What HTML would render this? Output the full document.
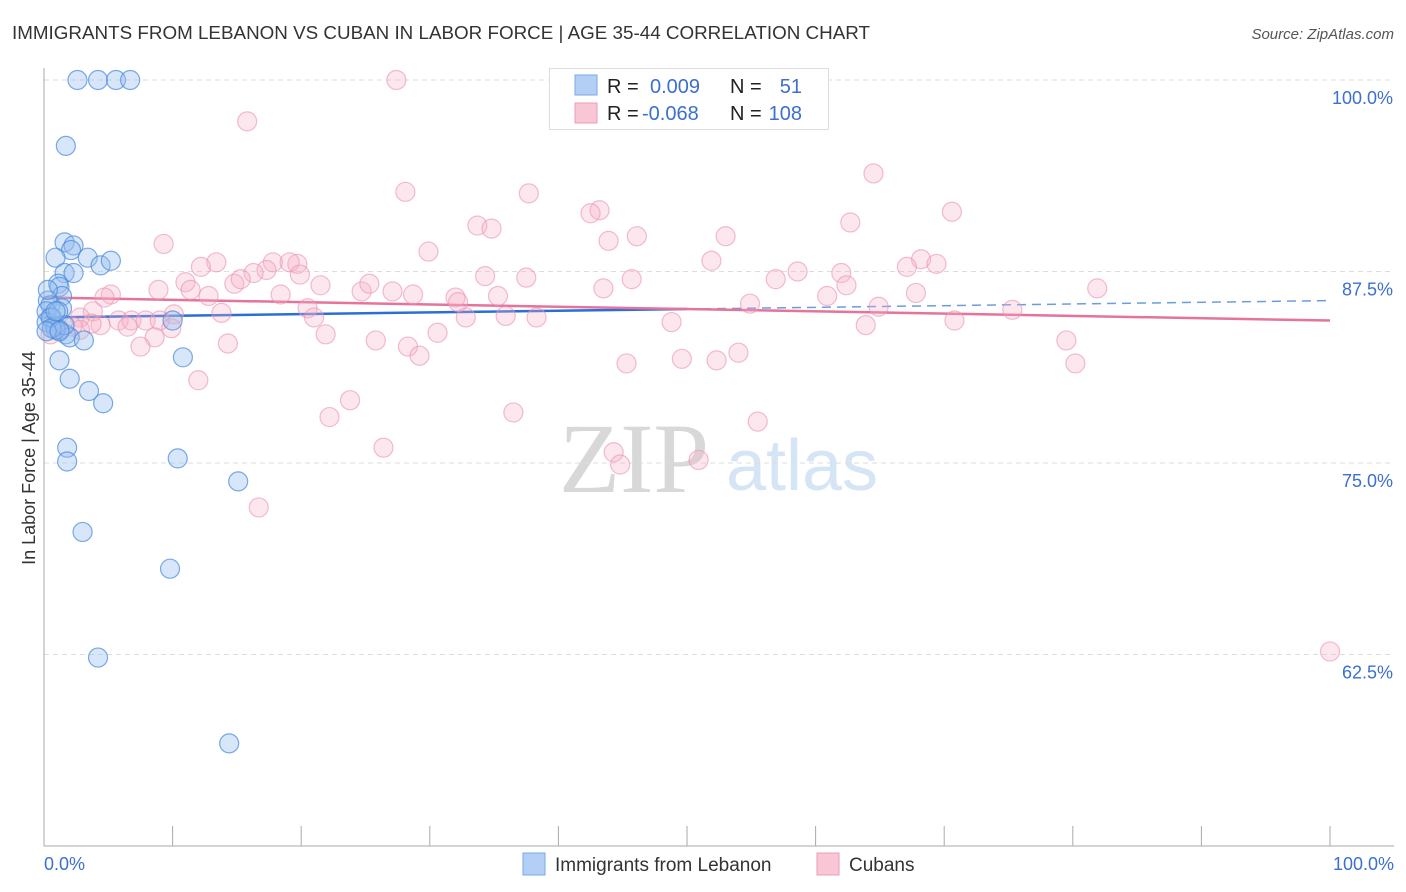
<!DOCTYPE html>
<html><head><meta charset="utf-8"><style>
body{margin:0;background:#fff;font-family:"Liberation Sans",sans-serif}
svg{display:block}
</style></head><body>
<svg id="chart" width="1406" height="892">
<text x="12" y="39" font-size="18" fill="#333" textLength="858" lengthAdjust="spacingAndGlyphs">IMMIGRANTS FROM LEBANON VS CUBAN IN LABOR FORCE | AGE 35-44 CORRELATION CHART</text>
<text x="1394" y="39" font-size="15" fill="#555" font-style="italic" text-anchor="end">Source: ZipAtlas.com</text>
<text x="35" y="458" font-size="18" fill="#333" transform="rotate(-90 35 458)" text-anchor="middle">In Labor Force | Age 35-44</text>
<g><text x="634" y="492" font-size="100" fill="#d8d8d8" font-family="Liberation Serif" text-anchor="middle">ZIP</text><text x="802" y="490" font-size="72" fill="#d6e5f5" text-anchor="middle">atlas</text></g>
<g id="grid"></g><g id="axes"></g><g id="trend"></g><g id="pts"></g>
<g>
<rect x="549.5" y="68.5" width="279" height="61" fill="#fff" stroke="#ddd"/>
<rect x="575" y="75" width="22" height="20" fill="#b3cff5" stroke="#7aa8e8"/>
<rect x="575" y="103" width="22" height="20" fill="#f9c6d6" stroke="#f09ab5"/>
<text x="607" y="93" font-size="20" fill="#222">R =</text><text x="650" y="93" font-size="20" fill="#3b6fd0">0.009</text>
<text x="730" y="93" font-size="20" fill="#222">N =</text><text x="802" y="93" font-size="20" fill="#3b6fd0" text-anchor="end">51</text>
<text x="607" y="120" font-size="20" fill="#222">R =</text><text x="642" y="120" font-size="20" fill="#3b6fd0">-0.068</text>
<text x="730" y="120" font-size="20" fill="#222">N =</text><text x="802" y="120" font-size="20" fill="#3b6fd0" text-anchor="end">108</text>
</g>
<g>
<rect x="523" y="853" width="22" height="22" fill="#b3cff5" stroke="#7aa8e8"/>
<text x="555" y="871" font-size="19" fill="#333">Immigrants from Lebanon</text>
<rect x="817" y="853" width="22" height="22" fill="#f9c6d6" stroke="#f09ab5"/>
<text x="849" y="871" font-size="19" fill="#333">Cubans</text>
</g>
<text x="44" y="870" font-size="18" fill="#3b6fd0">0.0%</text>
<text x="1394" y="870" font-size="18" fill="#3b6fd0" text-anchor="end">100.0%</text>
</svg>
<script>
const yTicks=[100,87.5,75,62.5];
const yTickLabels=["100.0%","87.5%","75.0%","62.5%"];
const xTicks=[0,10,20,30,40,50,60,70,80,90,100];
const blueX=[2.6,4.2,5.6,6.7,1.7,1.6,2.3,2.1,0.9,3.4,4.4,5.2,1.6,2.3,1.1,1.2,1.4,0.3,0.5,1.4,0.2,0.6,0.2,0.9,1.2,1.7,2.0,3.1,1.2,2.0,3.5,4.6,10.8,10.0,1.8,1.8,10.4,15.1,3.0,9.8,4.2,14.4,0.3,0.9,1.6,0.5,0.6,1.1,0.2,0.9,1.2];
const blueY=[100,100,100,100,95.7,89.4,89.2,88.9,88.4,88.4,87.9,88.2,87.4,87.4,86.7,86.5,85.9,85.6,85.3,85.1,84.9,84.5,84.2,83.9,83.7,83.4,83.2,83.0,81.7,80.5,79.7,78.9,81.9,84.3,76.0,75.1,75.3,73.8,70.5,68.1,62.3,56.7,86.3,83.7,84.0,84.5,83.8,84.9,83.6,84.9,83.6];
const pinkX=[27.4,15.8,64.5,28.1,37.7,43.2,42.5,70.6,33.7,34.8,62.7,43.9,46.1,53.0,9.3,29.9,13.4,12.2,51.9,68.2,69.4,67.1,17.8,19.7,19.1,17.3,16.3,19.9,34.3,37.5,45.7,56.9,58.6,62.0,62.4,11.0,14.8,15.3,8.9,11.4,12.8,18.4,21.5,24.7,25.3,27.1,28.7,32.0,32.2,35.3,43.5,60.9,67.8,81.9,5.2,4.7,3.8,2.8,10.1,13.8,20.5,21.0,32.8,35.9,38.3,54.9,64.9,75.3,70.8,48.8,63.9,5.8,6.8,7.9,9.0,4.4,2.2,1.2,3.7,6.5,8.6,7.5,9.9,14.3,21.9,25.8,28.3,29.2,30.6,45.3,49.6,52.3,54.0,79.5,80.2,12.0,23.8,22.2,36.5,55.5,26.4,44.3,44.8,50.9,16.7,100,0.5,2.8];
const pinkY=[100,97.3,93.9,92.7,92.6,91.5,91.3,91.4,90.5,90.3,90.7,89.5,89.8,89.8,89.3,88.8,88.1,87.8,88.2,88.3,88.0,87.8,88.1,88.0,88.1,87.6,87.4,87.3,87.2,87.1,87.0,87.0,87.5,87.4,86.6,86.8,86.7,87.0,86.3,86.3,85.9,86.0,86.6,86.2,86.7,86.2,86.0,85.8,85.5,85.9,86.4,85.9,86.1,86.4,86.0,85.8,84.9,84.5,84.7,84.8,85.1,84.5,84.5,84.6,84.5,85.4,85.2,85.0,84.3,84.2,84.0,84.3,84.3,84.3,84.3,84.0,83.9,83.7,84.1,83.9,83.2,82.6,83.8,82.8,83.4,83.0,82.6,82.0,83.5,81.5,81.8,81.7,82.2,83.0,81.5,80.4,79.1,78.0,78.3,77.7,76.0,75.7,74.9,75.2,72.1,62.7,83.4,83.7];
const blueTrend=[84.5,85.6];
const pinkTrend=[85.8,84.3];
const NS="http://www.w3.org/2000/svg";
const X=v=>44+v*12.86;
const Y=v=>80+(100-v)*15.32;
function mk(t,a,p){const e=document.createElementNS(NS,t);for(const k in a)e.setAttribute(k,a[k]);p.appendChild(e);return e;}
const grid=document.getElementById('grid'),axes=document.getElementById('axes');
yTicks.forEach((v,i)=>{
 const l=mk('line',{x1:44,x2:1394,y1:Y(v),y2:Y(v),stroke:'#ddd','stroke-dasharray':'5,4'},grid);
 
 
 const t=mk('text',{x:1393,y:Y(v)+24,'font-size':18,fill:'#3b6fd0','text-anchor':'end'},grid);
 t.textContent=yTickLabels[i];
 
 
});
const ya=mk('line',{x1:44,x2:44,y1:68,y2:846,stroke:'#aaa'},axes);


const xa=mk('line',{x1:44,x2:1394,y1:846,y2:846,stroke:'#aaa'},axes);


xTicks.forEach(v=>{
 const t=mk('line',{x1:X(v),x2:X(v),y1:826,y2:846,stroke:'#aaa'},axes);
 
 
});
const tr=document.getElementById('trend');
const bY=x=>blueTrend[0]+(blueTrend[1]-blueTrend[0])*x/100;
const pY=x=>pinkTrend[0]+(pinkTrend[1]-pinkTrend[0])*x/100;
const b1=mk('line',{x1:X(0),y1:Y(bY(0)),x2:X(50),y2:Y(bY(50)),stroke:'#2a6fd6','stroke-width':2.5},tr);


const b2=mk('line',{x1:X(50),y1:Y(bY(50)),x2:X(100),y2:Y(bY(100)),stroke:'#6a9de0','stroke-width':1.5,'stroke-dasharray':'9,6'},tr);


const p1=mk('line',{x1:X(0),y1:Y(pY(0)),x2:X(100),y2:Y(pY(100)),stroke:'#e5739a','stroke-width':2.5},tr);


const pts=document.getElementById('pts');
pinkX.forEach((x,i)=>{
 const c=mk('circle',{cx:X(x),cy:Y(pinkY[i]),r:9.5,fill:'rgba(246,175,198,0.3)',stroke:'rgba(235,145,175,0.6)','stroke-width':1.2},pts);
 
 
});
blueX.forEach((x,i)=>{
 const c=mk('circle',{cx:X(x),cy:Y(blueY[i]),r:9.5,fill:'rgba(150,190,240,0.38)',stroke:'rgba(70,135,220,0.7)','stroke-width':1.2},pts);
 
 
});
</script>
</body></html>
